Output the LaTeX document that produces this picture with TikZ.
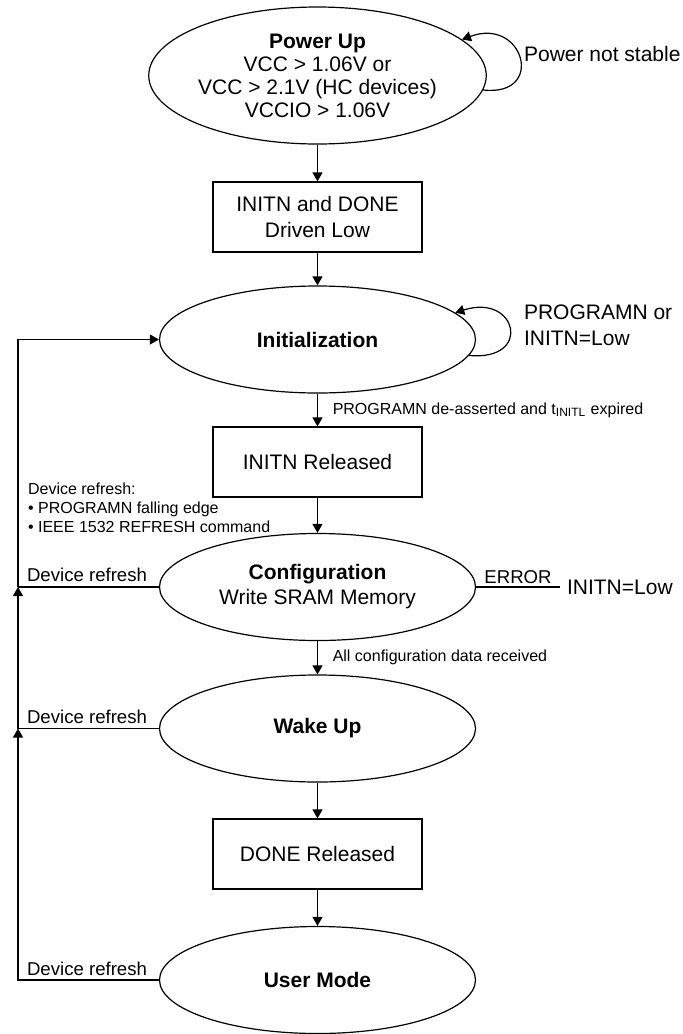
\documentclass[tikz,border=0pt]{standalone}
\usepackage{fontspec}
\setmainfont{Liberation Sans}
\usetikzlibrary{arrows.meta,calc,shapes.geometric}

\tikzset{
  StateNode/.style={draw,ellipse,line width=0.6pt,minimum width=158pt,
    minimum height=53.5pt,inner sep=0pt,align=center,
    font=\fontsize{10.5}{12.5}\selectfont},
  StepBox/.style={draw,rectangle,line width=0.6pt,minimum width=104.5pt,
    minimum height=35pt,align=center,font=\fontsize{10.5}{13}\selectfont},
  ArrowLine/.style={line width=0.6pt,-{Triangle[length=4.5pt,width=5pt]}},
  PlainLine/.style={line width=0.6pt},
  RefreshLbl/.style={font=\fontsize{9.3}{9.75}\selectfont,align=left},
  EdgeLbl/.style={font=\fontsize{8}{9.6}\selectfont,align=left},
  NoteLbl/.style={font=\fontsize{10.5}{13}\selectfont,align=left}
}

\begin{document}
\begin{tikzpicture}[x=0.5pt,y=-0.5pt]
\useasboundingbox (0,0) rectangle (683,1034);

% states and steps
\node[StateNode,minimum height=68.5pt,font=\fontsize{10.5}{11.5}\selectfont] (PwrUp) at (317.5,75.5)
  {\textbf{Power Up}\\VCC > 1.06V or\\VCC > 2.1V (HC devices)\\VCCIO > 1.06V};
\node[StepBox] (DrvLow) at (317.5,217) {INITN and DONE\\Driven Low};
\node[StateNode] (Init) at (317.5,339.5) {\textbf{Initialization}};
\node[StepBox] (InitRel) at (317.5,462) {INITN Released};
\node[StateNode] (Config) at (317.5,587) {\textbf{Configuration}\\Write SRAM Memory};
\node[StateNode] (Wake) at (317.5,728.5) {\textbf{Wake Up}};
\node[StepBox] (DoneRel) at (317.5,854) {DONE Released};
\node[StateNode] (User) at (317.5,980) {\textbf{User Mode}};

% notes on the right
\node[NoteLbl,anchor=west] (PwrNote) at (517,54) {Power not stable};
\node[NoteLbl,anchor=west] (InitNote) at (517,325) {PROGRAMN or\\INITN=Low};
\node[NoteLbl,anchor=west] (ErrLow) at (560,587) {INITN=Low};

% refresh labels on the left
\node[EdgeLbl,anchor=west,font=\fontsize{8}{9.5}\selectfont] (RefList) at (21,508)
  {Device refresh:\\\textbullet{} PROGRAMN falling edge\\\textbullet{} IEEE 1532 REFRESH command};
\node[RefreshLbl,anchor=west] (RefCfg) at (20,575) {Device refresh};
\node[RefreshLbl,anchor=west] (RefWake) at (20,717) {Device refresh};
\node[RefreshLbl,anchor=west] (RefUser) at (20,969) {Device refresh};

% self loops
\draw[ArrowLine] (PwrUp.-5) .. controls +(63,7) and +(62,-23) .. (PwrUp.14);
\draw[ArrowLine] (Init.-6) .. controls +(64,6) and +(62,-20) .. (Init.11);

% main flow
\draw[ArrowLine] (PwrUp) -- (DrvLow);
\draw[ArrowLine] (DrvLow) -- (Init);
\draw[ArrowLine] (Init) -- (InitRel)
  node[EdgeLbl,midway,right=4pt] {PROGRAMN de-asserted and t\textsubscript{INITL} expired};
\draw[ArrowLine] (InitRel) -- (Config);
\draw[ArrowLine] (Config) -- (Wake)
  node[EdgeLbl,midway,right=4pt] {All configuration data received};
\draw[ArrowLine] (Wake) -- (DoneRel);
\draw[ArrowLine] (DoneRel) -- (User);

% error exit
\draw[PlainLine] (Config.east) -- (ErrLow.west)
  node[RefreshLbl,midway,above,inner sep=1.5pt] {ERROR};

% refresh rail
\coordinate (Rail) at (18,0);
\draw[ArrowLine] (User.west) -| (Rail |- Wake.west);
\draw[PlainLine] (Wake.west) -- (Rail |- Wake.west);
\draw[ArrowLine] (Rail |- Wake.west) -- (Rail |- Config.west);
\draw[PlainLine] (Config.west) -- (Rail |- Config.west);
\draw[ArrowLine] (Rail |- Config.west) |- (Init.west);

\end{tikzpicture}
\end{document}
